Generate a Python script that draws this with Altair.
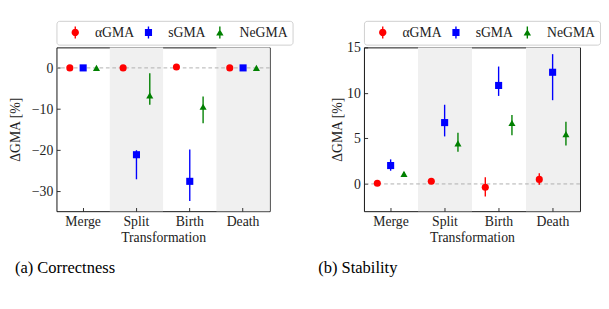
import altair as alt
import pandas as pd

# ---------------- data ----------------
categories = ["Merge", "Split", "Birth", "Death"]
series = ["αGMA", "sGMA", "NeGMA"]
shaded = ["Split", "Death"]

# (a) Correctness
corr_alpha = [0.0, 0.0, 0.2, 0.0]
corr_alpha_lo = [-0.1, -0.1, 0.1, -0.1]
corr_alpha_hi = [0.1, 0.1, 0.3, 0.1]
corr_s = [0.0, -21.2, -27.7, 0.0]
corr_s_lo = [-0.1, -27.2, -32.5, -0.1]
corr_s_hi = [0.1, -20.1, -19.9, 0.1]
corr_ne = [0.0, -6.7, -9.5, 0.0]
corr_ne_lo = [-0.1, -9.0, -13.5, -0.1]
corr_ne_hi = [0.1, -1.3, -7.0, 0.1]

# (b) Stability
stab_alpha = [0.07, 0.3, -0.37, 0.5]
stab_alpha_lo = [-0.05, 0.2, -1.38, -0.1]
stab_alpha_hi = [0.2, 0.4, 0.74, 1.18]
stab_s = [2.02, 6.74, 10.82, 12.27]
stab_s_lo = [1.45, 5.22, 9.67, 9.2]
stab_s_hi = [2.7, 8.7, 12.9, 14.26]
stab_ne = [1.1, 4.45, 6.7, 5.48]
stab_ne_lo = [0.9, 3.54, 5.36, 4.21]
stab_ne_hi = [1.3, 5.63, 7.58, 6.84]

corr_ticks = [-30, -20, -10, 0]
stab_ticks = [0, 5, 10, 15]

# ---------------- styling ----------------
FONT = "Liberation Serif"
TXT = "#222222"
FS = 15
colors = ["#ff0000", "#0000ff", "#008000"]
shapes = ["circle", "square", "triangle-up"]
# legend glyphs: marker + vertical error line (unit = sqrt(size)/2 px)
_bar = "M -0.115 -1 L 0.115 -1 L 0.115 1 L -0.115 1 Z "
legend_paths = [
    _bar + "M -0.62 0 A 0.62 0.62 0 1 1 0.62 0 A 0.62 0.62 0 1 1 -0.62 0 Z",
    _bar + "M -0.6 -0.6 L 0.6 -0.6 L 0.6 0.6 L -0.6 0.6 Z",
    _bar + "M 0 -0.55 L 0.62 0.5 L -0.62 0.5 Z",
]


def long_df(vals, los, his):
    rows = []
    for s, v, l, h in zip(series, vals, los, his):
        for c, vv, ll, hh in zip(categories, v, l, h):
            rows.append({"cat": c, "series": s, "val": vv, "lo": ll, "hi": hh})
    return pd.DataFrame(rows)


def panel(df, ydom, yticks, width, caption, cap_dx, ytitle_pad):
    xscale = alt.Scale(domain=categories, paddingInner=0, paddingOuter=0)
    xaxis = alt.Axis(title="Transformation", labelAngle=0)
    yscale = alt.Scale(domain=ydom, nice=False, zero=False)
    yaxis = alt.Axis(title="ΔGMA [%]", values=yticks, titlePadding=ytitle_pad)
    xoff = alt.XOffset("series:N", scale=alt.Scale(domain=series, paddingInner=0, paddingOuter=0.5))

    def X():
        return alt.X("cat:N", scale=xscale, axis=xaxis, sort=categories)

    shade = alt.Chart(pd.DataFrame({"cat": shaded})).mark_rect(color="#f0f0f0").encode(x=X())
    zero = alt.Chart(pd.DataFrame({"zero_line": [0]})).mark_rule(
        color="#aaaaaa", strokeDash=[4, 3], strokeWidth=1
    ).encode(y=alt.Y("zero_line:Q", scale=yscale, axis=yaxis))
    rules = alt.Chart(df).mark_rule(strokeWidth=1.5).encode(
        x=X(), xOffset=xoff,
        y=alt.Y("lo:Q", scale=yscale, axis=yaxis), y2="hi:Q",
        color=alt.Color("series:N", scale=alt.Scale(domain=series, range=colors), legend=None),
    )
    points = alt.Chart(df).mark_point(filled=True, size=60, opacity=1).encode(
        x=X(), xOffset=xoff,
        y=alt.Y("val:Q", scale=yscale, axis=yaxis),
        color=alt.Color("series:N", scale=alt.Scale(domain=series, range=colors), legend=None),
        shape=alt.Shape("series:N", scale=alt.Scale(domain=series, range=shapes), legend=None),
    )
    leg = alt.Chart(df).transform_filter("false").mark_point(filled=True, opacity=1).encode(
        color=alt.Color("series:N", scale=alt.Scale(domain=series, range=colors),
                        legend=alt.Legend(title=None)),
        shape=alt.Shape("series:N", scale=alt.Scale(domain=series, range=legend_paths),
                        legend=alt.Legend(title=None)),
    )
    return alt.layer(shade, zero, rules, points, leg).resolve_scale(
        color="independent", shape="independent"
    ).properties(
        width=width, height=179,
        title=alt.TitleParams(caption, orient="bottom", anchor="start", dx=cap_dx, offset=18,
                              font=FONT, fontSize=18, fontWeight="normal", color="#000000"),
    )


left = panel(long_df([corr_alpha, corr_s, corr_ne], [corr_alpha_lo, corr_s_lo, corr_ne_lo],
                     [corr_alpha_hi, corr_s_hi, corr_ne_hi]),
             [-35, 5], corr_ticks, 233, "(a) Correctness", 7, 10)
right = panel(long_df([stab_alpha, stab_s, stab_ne], [stab_alpha_lo, stab_s_lo, stab_ne_lo],
                      [stab_alpha_hi, stab_s_hi, stab_ne_hi]),
              [-3, 15], stab_ticks, 236, "(b) Stability", -13, 3)

chart = alt.hconcat(left, right, spacing=26).resolve_scale(
    color="independent", shape="independent"
).resolve_legend(color="independent", shape="independent").properties(
    padding={"left": 0, "top": 0, "right": 0, "bottom": 0}
).configure_view(
    stroke="#000000", strokeWidth=1
).configure_axis(
    labelFont=FONT, labelFontSize=FS, labelColor=TXT,
    titleFont=FONT, titleFontSize=FS, titleFontWeight="normal", titleColor=TXT,
    domain=False, grid=False, tickColor=TXT, tickSize=4, offset=-4, labelPadding=4,
).configure_axisX(titlePadding=2).configure_legend(
    orient="none", legendX=0, legendY=-29, direction="horizontal",
    padding=5, strokeColor="#cccccc", fillColor="#ffffff", cornerRadius=3,
    symbolSize=169, symbolOffset=8, labelOffset=14, columnPadding=0,
    labelFont=FONT, labelFontSize=FS, labelColor=TXT, symbolStrokeWidth=0,
)

chart.save("out.html", embed_options={"renderer": "svg", "actions": False})
